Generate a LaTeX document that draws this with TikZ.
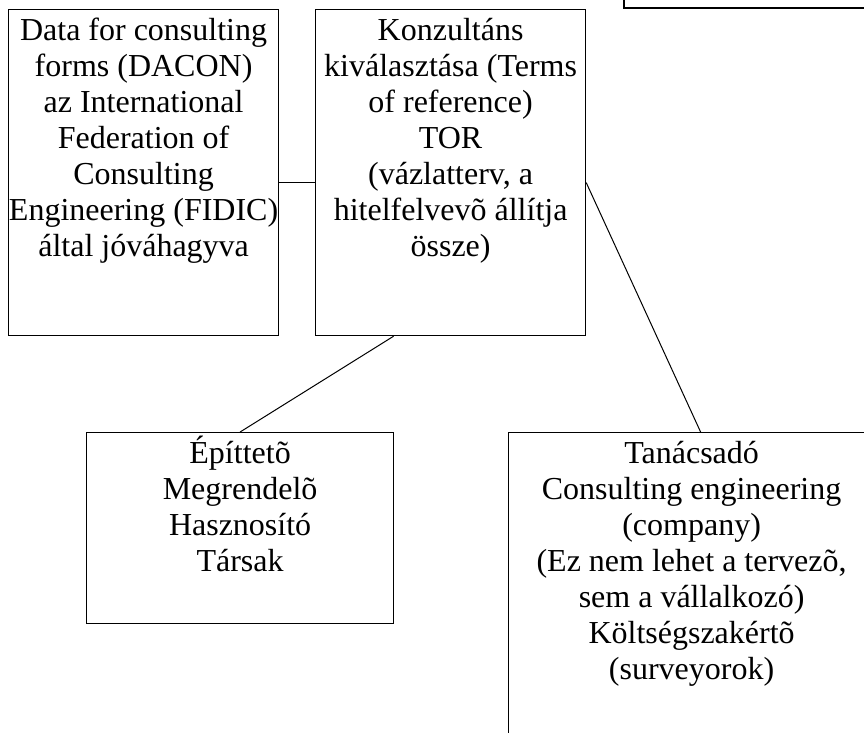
\documentclass[tikz,border=0pt]{standalone}
\usepackage{fontspec}
\setmainfont{Liberation Serif}
\usetikzlibrary{positioning}
\tikzstyle{box} = [rectangle, draw=black, line width=1.2pt, inner sep=0pt, anchor=north west]
\tikzstyle{boxtext} = [align=center, inner sep=3pt, font=\fontsize{32}{36}\selectfont]
\tikzstyle{link} = [line width=1pt]
\newcommand{\topstrut}{\rule{0pt}{28pt}}

\begin{document}
\begin{tikzpicture}[x=1pt, y=-1pt]
		\useasboundingbox (0,0) rectangle (864,732);
		\clip (0,0) rectangle (864,732);
		\node (data) [box, minimum width=270pt, minimum height=326pt] at (8,9) {};
		\node (konz) [box, minimum width=270pt, minimum height=326pt] at (315,9) {};
		\node (epit) [box, minimum width=307pt, minimum height=191pt] at (86,432) {};
		\node (tanacs) [box, minimum width=366pt, minimum height=400pt] at (508,432) {};
		\node (topbox) [box, anchor=south west, line width=1.6pt, minimum width=300pt, minimum height=60pt] at (623,9) {};
		\node (data-txt) [boxtext, below=0pt of data.north] {\topstrut Data for consulting\\forms (DACON)\\az International\\Federation of\\Consulting\\Engineering (FIDIC)\\által jóváhagyva};
		\node (konz-txt) [boxtext, below=0pt of konz.north] {\topstrut Konzultáns\\kiválasztása (Terms\\of reference)\\TOR\\(vázlatterv, a\\hitelfelvevõ állítja\\össze)};
		\node (epit-txt) [boxtext, below=0pt of epit.north] {\topstrut Építtetõ\\Megrendelõ\\Hasznosító\\Társak};
		\node (tanacs-txt) [boxtext, below=0pt of tanacs.north] {\topstrut Tanácsadó\\Consulting engineering\\(company)\\(Ez nem lehet a tervezõ,\\sem a vállalkozó)\\Költségszakértõ\\(surveyorok)};
		\draw [link] ([yshift=-10pt]data.east) -- ([yshift=-10pt]konz.west);
		\draw [link] ([xshift=-57pt]konz.south) -- (epit.north);
		\draw [link] ([yshift=-10pt]konz.east) -- ([xshift=9pt]tanacs.north);
\end{tikzpicture}
\end{document}
